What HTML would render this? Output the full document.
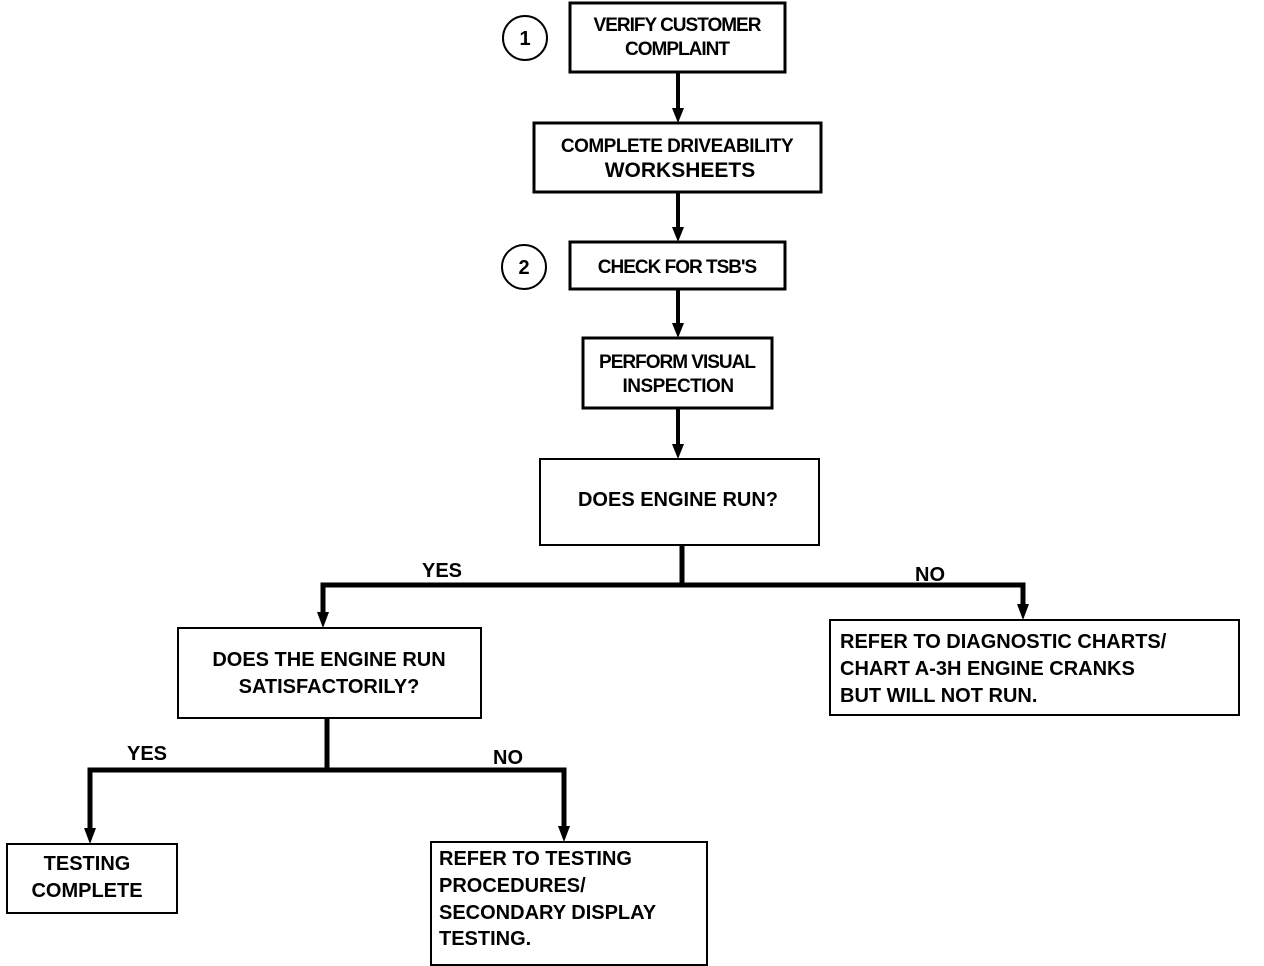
<!DOCTYPE html>
<html><head><meta charset="utf-8"><style>
html,body{margin:0;padding:0;background:#fff;}
svg{display:block;}
text{font-family:"Liberation Sans",Arial,sans-serif;font-weight:bold;fill:#000;}
</style></head><body>
<svg width="1264" height="966" viewBox="0 0 1264 966" xmlns="http://www.w3.org/2000/svg">
<g fill="none" stroke="#000">
<rect x="570" y="3" width="215" height="69" stroke-width="3"/>
<rect x="534" y="123" width="287" height="69" stroke-width="3"/>
<rect x="570" y="242" width="215" height="47" stroke-width="3"/>
<rect x="583" y="338" width="189" height="70" stroke-width="3"/>
<rect x="540" y="459" width="279" height="86" stroke-width="2"/>
<rect x="178" y="628" width="303" height="90" stroke-width="2"/>
<rect x="830" y="620" width="409" height="95" stroke-width="2"/>
<rect x="7" y="844" width="170" height="69" stroke-width="2"/>
<rect x="431" y="842" width="276" height="123" stroke-width="2"/>
<circle cx="525" cy="38" r="22" stroke-width="2"/>
<circle cx="524" cy="267" r="22" stroke-width="2"/>
<g stroke-width="4">
<line x1="678" y1="73" x2="678" y2="112"/>
<line x1="678" y1="193" x2="678" y2="231"/>
<line x1="678" y1="290" x2="678" y2="327"/>
<line x1="678" y1="409" x2="678" y2="448"/>
</g>
<g stroke-width="5">
<line x1="682" y1="545" x2="682" y2="585"/>
<polyline points="323,618 323,585 1023,585 1023,608"/>
<line x1="327" y1="718" x2="327" y2="770"/>
<polyline points="90,832 90,770 564,770 564,830"/>
</g>
</g>
<g fill="#000">
<polygon points="672,108 684,108 678,123"/>
<polygon points="672,227 684,227 678,242"/>
<polygon points="672,323 684,323 678,338"/>
<polygon points="672,444 684,444 678,459"/>
<polygon points="317,612 329,612 323,628"/>
<polygon points="1017,604 1029,604 1023,620"/>
<polygon points="84,828 96,828 90,844"/>
<polygon points="558,826 570,826 564,842"/>
</g>
<g font-size="19" text-anchor="middle">
<text x="525" y="45" font-size="20">1</text>
<text x="524" y="274" font-size="20">2</text>
<text x="677" y="31" letter-spacing="-1">VERIFY CUSTOMER</text>
<text x="677" y="55" letter-spacing="-1">COMPLAINT</text>
<text x="677" y="152" letter-spacing="-0.5">COMPLETE  DRIVEABILITY</text>
<text x="680" y="177" font-size="21">WORKSHEETS</text>
<text x="677" y="273" letter-spacing="-1">CHECK FOR TSB'S</text>
<text x="677" y="368" letter-spacing="-1">PERFORM VISUAL</text>
<text x="678" y="392" letter-spacing="-0.5">INSPECTION</text>
<text x="678" y="506" font-size="20">DOES ENGINE RUN?</text>
<text x="329" y="666" font-size="20">DOES THE ENGINE RUN</text>
<text x="329" y="693" font-size="20">SATISFACTORILY?</text>
<text x="442" y="577" font-size="20">YES</text>
<text x="930" y="581" font-size="20">NO</text>
<text x="147" y="760" font-size="20">YES</text>
<text x="508" y="764" font-size="20">NO</text>
<text x="87" y="870" font-size="20">TESTING</text>
<text x="87" y="897" font-size="20">COMPLETE</text>
</g>
<g font-size="20" text-anchor="start">
<text x="840" y="648">REFER TO DIAGNOSTIC CHARTS/</text>
<text x="840" y="675">CHART A-3H ENGINE CRANKS</text>
<text x="840" y="702">BUT WILL NOT RUN.</text>
<text x="439" y="865">REFER TO TESTING</text>
<text x="439" y="892">PROCEDURES/</text>
<text x="439" y="919">SECONDARY DISPLAY</text>
<text x="439" y="945">TESTING.</text>
</g>
</svg>
</body></html>
